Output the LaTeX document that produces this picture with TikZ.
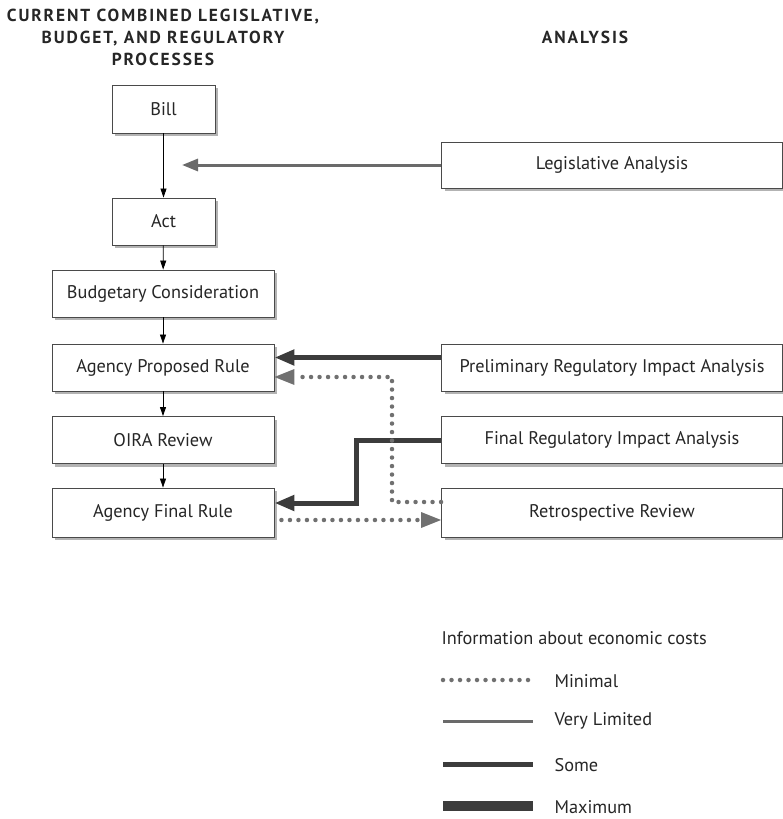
\documentclass[tikz,border=0pt]{standalone}
\usepackage{fontspec}
\setmainfont{PT Sans}
\newfontfamily\headfont[LetterSpace=11]{PT Sans}
\usetikzlibrary{arrows.meta,shadows,calc}
\definecolor{thickc}{HTML}{3C3C3C}
\definecolor{limc}{HTML}{6A6A6A}
\definecolor{dotc}{HTML}{707070}
\definecolor{edgec}{HTML}{4A4A4A}
\tikzset{
  box/.style={draw=edgec, line width=0.9pt, fill=white, rectangle, inner sep=0pt,
    font=\fontsize{18.3}{21}\selectfont, text=black!85,
    drop shadow={shadow xshift=3pt, shadow yshift=-3pt, fill=black!50, opacity=0.6}},
  flow/.style={draw=black, line width=0.8pt, -{Triangle[length=9pt,width=6pt]}},
  verylim/.style={draw=limc, line width=3pt, -{Triangle[length=16pt,width=12pt]}},
  some/.style={draw=thickc, line width=5pt, -{Triangle[length=20pt,width=15pt]}},
  minimal/.style={draw=dotc, line width=4.5pt, line cap=round, dash pattern=on 0pt off 8.5pt},
  minarrow/.style={fill=dotc, draw=none},
  head/.style={font=\headfont\bfseries\fontsize{17.4}{22}\selectfont, align=center, text=black!85},
  legtext/.style={font=\fontsize{18.3}{21}\selectfont, anchor=west, text=black!85}
}
\begin{document}
\begin{tikzpicture}[x=1pt,y=-1pt]
\useasboundingbox (0,0) rectangle (783,819);
% headers
\node[head] (h1) at (163,37) {CURRENT COMBINED LEGISLATIVE,\\BUDGET, AND REGULATORY\\PROCESSES};
\node[head] (h2) at (585,37) {ANALYSIS};
% left boxes
\node[box, minimum width=103pt, minimum height=48pt] (bill) at (163.5,109) {Bill};
\node[box, minimum width=103pt, minimum height=47pt] (act) at (163.5,221.5) {Act};
\node[box, minimum width=222pt, minimum height=47pt] (bud) at (163,293.5) {Budgetary Consideration};
\node[box, minimum width=222pt, minimum height=47pt] (apr) at (163,367.5) {Agency Proposed Rule};
\node[box, minimum width=222pt, minimum height=47pt] (oira) at (163,440) {OIRA Review};
\node[box, minimum width=222pt, minimum height=49pt] (afr) at (163,512.5) {Agency Final Rule};
% right boxes
\node[box, minimum width=341pt, minimum height=46pt] (leg) at (612,165) {Legislative Analysis};
\node[box, minimum width=341pt, minimum height=47pt] (pria) at (612,367.5) {Preliminary Regulatory Impact Analysis};
\node[box, minimum width=341pt, minimum height=47pt] (fria) at (612,440) {Final Regulatory Impact Analysis};
\node[box, minimum width=341pt, minimum height=49pt] (retro) at (612,512.5) {Retrospective Review};
% process flow
\draw[flow] (bill) -- (act);
\draw[flow] (act) -- (bud);
\draw[flow] (bud) -- (apr);
\draw[flow] (apr) -- (oira);
\draw[flow] (oira) -- (afr);
% analysis connectors
\coordinate (legend) at (182,165);
\draw[verylim] (leg.west) -- (legend);
\draw[some] ([yshift=10pt]pria.west) -- ([yshift=10pt]apr.east);
\draw[some] (fria.west) -- ++(-85,0) |- ([yshift=9.5pt]afr.east);
% minimal dotted
\coordinate (rturn) at (392,502);
\draw[minimal] ([yshift=10.5pt]retro.west) -- (rturn) -- (392,377) -- (296,377);
\fill[minarrow] ([yshift=-9.5pt]apr.east) -- ++(20,-8) -- ++(0,16) -- cycle;
\draw[minimal] ($([yshift=-7.5pt]afr.east)+(7,0)$) -- ($([yshift=-7.5pt]retro.west)+(-22,0)$);
\fill[minarrow] ([yshift=-7.5pt]retro.west) -- ++(-20,-8) -- ++(0,16) -- cycle;
% legend
\node[legtext] (ltitle) at (438,638) {Information about economic costs};
\coordinate (m1) at (443,680); \coordinate (m2) at (533,680);
\coordinate (v1) at (443,721); \coordinate (v2) at (533,721);
\coordinate (s1) at (443,764); \coordinate (s2) at (533,764);
\coordinate (x1) at (443,806); \coordinate (x2) at (533,806);
\draw[minimal] (m1) -- (m2);
\draw[draw=limc, line width=3pt] (v1) -- (v2);
\draw[draw=thickc, line width=5pt] (s1) -- (s2);
\draw[draw=thickc, line width=10pt] (x1) -- (x2);
\node[legtext] (lmin) at (551,681) {Minimal};
\node[legtext] (lvl) at (551,721) {Very Limited};
\node[legtext] (lsome) at (551,765) {Some};
\node[legtext] (lmax) at (551,807) {Maximum};
\end{tikzpicture}
\end{document}
